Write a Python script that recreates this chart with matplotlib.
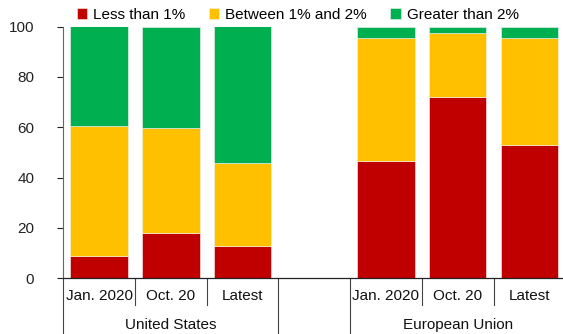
import numpy as np
import matplotlib.pyplot as plt

plt.rcParams["font.family"] = ["Liberation Sans", "DejaVu Sans"]

# Share of respondents by inflation bucket
categories = ["Jan. 2020", "Oct. 20", "Latest", "", "Jan. 2020", "Oct. 20", "Latest"]
groups = ["United States", "European Union"]
less_1 = [8.7, 18.1, 12.7, 0, 46.7, 71.9, 52.8]
between_1_2 = [51.6, 41.5, 33.2, 0, 48.8, 25.6, 42.7]
greater_2 = [39.7, 40.4, 54.1, 0, 4.5, 2.5, 4.5]

series = [
    ("Less than 1%", less_1, "#C00000"),
    ("Between 1% and 2%", between_1_2, "#FFC000"),
    ("Greater than 2%", greater_2, "#00B050"),
]

fig = plt.figure(figsize=(5.63, 3.34), dpi=100)
ax = fig.add_axes([63.3 / 563, 55.7 / 334, 501.9 / 563, 251.8 / 334])

x = np.arange(len(categories))
bottom = np.zeros(len(categories))
for label, vals, color in series:
    vals = np.array(vals, dtype=float)
    ax.bar(x, vals, width=0.8, bottom=bottom, color=color, label=label,
           edgecolor="#f4f4f4", linewidth=0.4)
    bottom += vals

ax.set_xlim(-0.5, len(categories) - 0.5)
ax.set_ylim(0, 100)
ax.set_yticks([0, 20, 40, 60, 80, 100])
ax.tick_params(axis="y", direction="out", length=4, width=0.8, pad=17,
               labelsize=11, colors="#222222")
ax.tick_params(axis="x", length=0, labelbottom=False)

for side in ["top", "right"]:
    ax.spines[side].set_visible(False)
ax.spines["left"].set_color("#666666")
ax.spines["bottom"].set_color("#222222")
ax.spines["left"].set_linewidth(0.8)
ax.spines["bottom"].set_linewidth(0.9)

# Two-level category axis: labels plus separators below the plot
trans = ax.get_xaxis_transform()
for i, cat in enumerate(categories):
    if cat:
        ax.text(i, -0.072, cat, transform=trans, ha="center", va="center",
                fontsize=11, color="#111111")

long_edges = [-0.5, 2.5, 3.5]
short_edges = [0.5, 1.5, 4.5, 5.5]
for e in long_edges:
    ax.plot([e, e], [0, -0.23], transform=trans, color="#444444",
            linewidth=0.8, clip_on=False)
for e in short_edges:
    ax.plot([e, e], [0, -0.107], transform=trans, color="#444444",
            linewidth=0.8, clip_on=False)

ax.text(1, -0.187, groups[0], transform=trans, ha="center", va="center",
        fontsize=11, color="#111111")
ax.text(5, -0.187, groups[1], transform=trans, ha="center", va="center",
        fontsize=11, color="#111111")

ax.legend(loc="center", bbox_to_anchor=(0.467, 1.045), ncol=3, frameon=False,
          fontsize=11, handlelength=0.7, handleheight=0.7,
          handletextpad=0.4, columnspacing=1.5, borderaxespad=0)

fig.savefig("out.png", dpi=100)
